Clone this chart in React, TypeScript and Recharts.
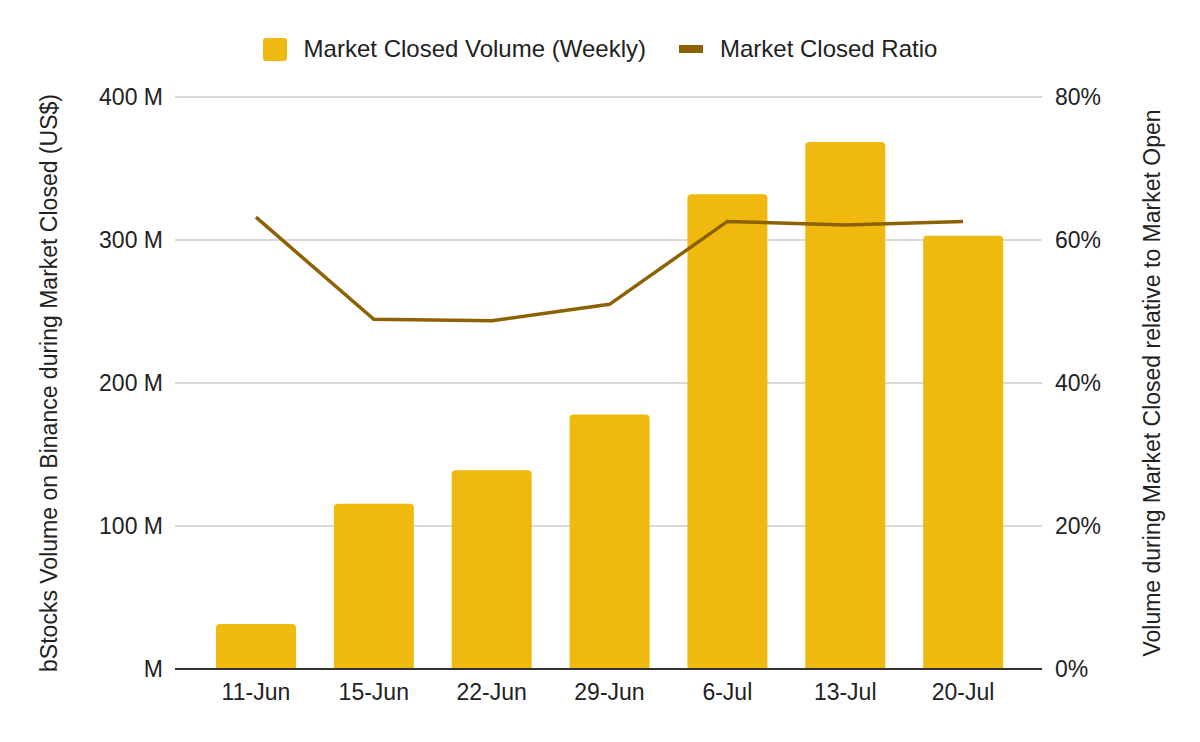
import React from 'react'
import {
  ComposedChart, Bar, Line, XAxis, YAxis, CartesianGrid, Legend,
} from 'recharts'

const weeks = ['11-Jun', '15-Jun', '22-Jun', '29-Jun', '6-Jul', '13-Jul', '20-Jul']
const closedVolume = [31.5, 115.5, 139, 178, 332, 368.5, 303]
const closedRatio = [63.2, 48.9, 48.7, 51.0, 62.6, 62.1, 62.6]
const volumeTicks = [0, 100, 200, 300, 400]
const ratioTicks = [0, 20, 40, 60, 80]

const data = weeks.map((week, i) => ({
  week,
  volume: closedVolume[i],
  ratio: closedRatio[i],
}))

const FONT = '"Liberation Sans", Arial, sans-serif'
const TEXT = '#222222'
const BAR = '#F0B90F'
const LINE = '#8C6204'

const tickStyle = { fontFamily: FONT, fontSize: 23, fill: TEXT }

function volumeLabel(v: number) {
  return v === 0 ? 'M' : `${v} M`
}

function AxisTitle({ viewBox, text, dx }: any) {
  const x = viewBox.x + dx
  const y = viewBox.y + viewBox.height / 2
  return (
    <text
      x={x}
      y={y}
      transform={`rotate(-90, ${x}, ${y})`}
      textAnchor="middle"
      dominantBaseline="central"
      style={{ fontFamily: FONT, fontSize: 23, fill: TEXT }}
    >
      {text}
    </text>
  )
}

function LegendContent() {
  return (
    <div style={{ display: 'flex', justifyContent: 'center', alignItems: 'center', fontFamily: FONT, fontSize: 24, color: TEXT }}>
      <span style={{ width: 24, height: 23, background: BAR, borderRadius: 3, display: 'inline-block' }} />
      <span style={{ marginLeft: 17 }}>Market Closed Volume (Weekly)</span>
      <span style={{ width: 24, height: 8, background: LINE, display: 'inline-block', marginLeft: 33 }} />
      <span style={{ marginLeft: 17 }}>Market Closed Ratio</span>
    </div>
  )
}

export default function App() {
  return (
    <div style={{ position: 'absolute', left: 0, top: 0, width: 1200, height: 742, background: '#fff' }}>
      <ComposedChart
        width={1200}
        height={742}
        data={data}
        margin={{ top: 97, right: 0, bottom: 0, left: 0 }}
      >
        <CartesianGrid stroke="#cccccc" strokeWidth={1.5} vertical={false} yAxisId="left" />
        <XAxis
          dataKey="week"
          height={73}
          padding={{ left: 22, right: 20 }}
          tick={tickStyle}
          tickLine={false}
          tickSize={0}
          tickMargin={15}
          axisLine={{ stroke: '#333333', strokeWidth: 2 }}
        />
        <YAxis
          yAxisId="left"
          orientation="left"
          width={175}
          domain={[0, 400]}
          ticks={volumeTicks}
          tickFormatter={volumeLabel}
          tick={tickStyle}
          tickLine={false}
          tickSize={0}
          tickMargin={12}
          axisLine={false}
          label={<AxisTitle text="bStocks Volume on Binance during Market Closed (US$)" dx={49} />}
        />
        <YAxis
          yAxisId="right"
          orientation="right"
          width={158}
          domain={[0, 80]}
          ticks={ratioTicks}
          tickFormatter={(v: number) => `${v}%`}
          tick={{ ...tickStyle, textAnchor: 'start' }}
          tickLine={false}
          tickSize={0}
          tickMargin={13}
          axisLine={false}
          label={<AxisTitle text="Volume during Market Closed relative to Market Open" dx={110} />}
        />
        <Legend
          verticalAlign="middle"
          align="center"
          content={<LegendContent />}
          wrapperStyle={{ top: 35, left: 0, width: 1200 }}
        />
        <Bar
          yAxisId="left"
          dataKey="volume"
          name="Market Closed Volume (Weekly)"
          fill={BAR}
          barSize={80}
          radius={[4, 4, 0, 0]}
          isAnimationActive={false}
        />
        <Line
          yAxisId="right"
          dataKey="ratio"
          name="Market Closed Ratio"
          type="linear"
          stroke={LINE}
          strokeWidth={3.5}
          dot={false}
          activeDot={false}
          isAnimationActive={false}
        />
      </ComposedChart>
    </div>
  )
}
